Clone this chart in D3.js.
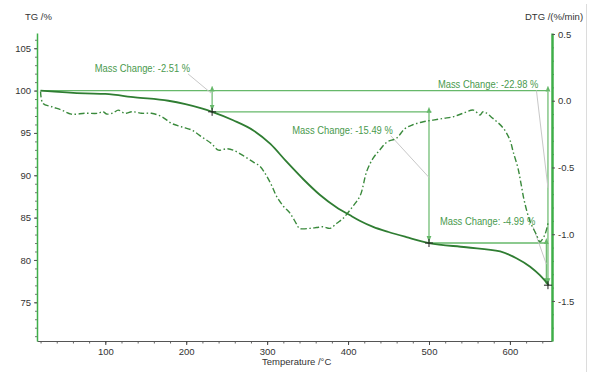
<!DOCTYPE html>
<html>
<head>
<meta charset="utf-8">
<script src="https://cdn.jsdelivr.net/npm/d3@7/dist/d3.min.js"></script>
<style>
  html, body { margin: 0; padding: 0; background: #fff; }
  svg { display: block; font-family: "Liberation Sans", Arial, sans-serif; }
</style>
</head>
<body>
<svg id="chart" width="589" height="372"></svg>
<script>
// Thermogravimetric curve (TG, %) against temperature (°C)
const tgTemp = [20, 75, 100, 137, 178, 199, 219, 232, 258, 283, 304, 324, 345, 365, 386, 402, 415, 431, 450, 472, 500, 546, 588, 608, 625, 637, 648];
const tgMass = [100, 99.67, 99.6, 99.2, 98.8, 98.4, 97.9, 97.49, 96.5, 95.3, 93.7, 91.6, 89.5, 87.7, 86.2, 85.3, 84.6, 83.9, 83.3, 82.7, 82.0, 81.5, 81.0, 80.2, 79.2, 78.2, 77.02];

// Derivative curve (DTG, %/min)
const dtgTemp = [20, 23, 34, 46, 58, 75, 91, 97, 102, 110, 116, 124, 133, 145, 157, 170, 182, 194, 207, 219, 231, 240, 250, 258, 270, 283, 291, 299, 306, 312, 320, 328, 336, 340, 353, 361, 369, 378, 386, 394, 406, 415, 423, 431, 439, 448, 460, 470, 480, 493, 505, 518, 530, 542, 555, 563, 567, 579, 592, 600, 604, 610, 614, 618, 625, 633, 637, 643, 647];
const dtgRate = [0.07, -0.02, -0.045, -0.07, -0.10, -0.094, -0.094, -0.082, -0.10, -0.09, -0.07, -0.094, -0.082, -0.094, -0.094, -0.12, -0.17, -0.195, -0.22, -0.27, -0.32, -0.37, -0.36, -0.37, -0.41, -0.46, -0.49, -0.56, -0.64, -0.72, -0.79, -0.84, -0.92, -0.956, -0.956, -0.95, -0.944, -0.956, -0.918, -0.88, -0.79, -0.71, -0.53, -0.43, -0.37, -0.31, -0.28, -0.21, -0.18, -0.157, -0.145, -0.132, -0.12, -0.094, -0.07, -0.107, -0.082, -0.132, -0.207, -0.294, -0.382, -0.506, -0.631, -0.757, -0.906, -1.006, -1.056, -1.006, -0.918];

// Mass-change steps: temperature of each step and the mass levels bounding it
const stepTemp = [232, 500, 645];
const stepMass = [100, 97.49, 82.0, 77.02];
const stepLabel = ["Mass Change: -2.51 %", "Mass Change: -15.49 %", "Mass Change: -4.99 %"];
const totalLabel = "Mass Change: -22.98 %";

// Tick labels
const xTicks = [100, 200, 300, 400, 500, 600];
const tgTicks = [75, 80, 85, 90, 95, 100, 105];
const dtgTicks = [-1.5, -1.0, -0.5, 0.0, 0.5];

const svg = d3.select("#chart");
const L = 37, R = 552, T = 33, B = 341;

const x = d3.scaleLinear().domain([15.6, 652]).range([L, R]);
const yTG = d3.scaleLinear().domain([70.43, 106.8]).range([B, T]);
const yDTG = d3.scaleLinear().domain([-1.8, 0.5075]).range([B, T]);

const axisGreen = "#3fae49";
const tgColor = "#2f7d32";
const dtgColor = "#3a8a3c";
const annColor = "#66b86a";
const textGreen = "#4a9a4e";
const leader = "#c8c8c8";

// faint frame line on the far right
svg.append("line").attr("x1", 586.5).attr("x2", 586.5).attr("y1", 4).attr("y2", 372)
  .attr("stroke", "#dcdcdc").attr("stroke-width", 1);

// ---- axes ----
function styleAxis(g, lineColor, tickColor) {
  g.select(".domain").attr("stroke", lineColor);
  g.selectAll(".tick line").attr("stroke", tickColor);
  g.selectAll(".tick text").attr("fill", "#333").attr("font-size", "9.5px")
    .attr("font-family", "'Liberation Sans', Arial, sans-serif");
}

// bottom (temperature)
const gxMinor = svg.append("g").attr("transform", `translate(0,${B})`)
  .call(d3.axisBottom(x).tickValues(d3.range(20, 652, 20)).tickSize(2.5).tickFormat(""));
gxMinor.select(".domain").remove();
gxMinor.selectAll(".tick line").attr("stroke", "#666");
const gx = svg.append("g").attr("transform", `translate(0,${B})`)
  .call(d3.axisBottom(x).tickValues(xTicks).tickSize(4).tickSizeOuter(0).tickPadding(3));
styleAxis(gx, "#555", "#444");

// left (TG)
const gyMinor = svg.append("g").attr("transform", `translate(${L},0)`)
  .call(d3.axisLeft(yTG).tickValues(d3.range(71, 107, 1)).tickSize(2).tickFormat(""));
gyMinor.select(".domain").remove();
gyMinor.selectAll(".tick line").attr("stroke", "#777");
const gy = svg.append("g").attr("transform", `translate(${L},0)`)
  .call(d3.axisLeft(yTG).tickValues(tgTicks).tickSize(3).tickSizeOuter(0).tickPadding(3));
styleAxis(gy, axisGreen, "#555");
gy.select(".domain").attr("stroke-width", 1.5);

// right (DTG)
const gdMinor = svg.append("g").attr("transform", `translate(${R},0)`)
  .call(d3.axisRight(yDTG).tickValues(d3.range(-17, 6, 1).map(d => d / 10)).tickSize(2).tickFormat(""));
gdMinor.select(".domain").remove();
gdMinor.selectAll(".tick line").attr("stroke", "#777");
const gd = svg.append("g").attr("transform", `translate(${R},0)`)
  .call(d3.axisRight(yDTG).tickValues(dtgTicks).tickSize(3).tickSizeOuter(0).tickPadding(3)
    .tickFormat(d3.format(".1f")));
styleAxis(gd, axisGreen, "#555");
gd.select(".domain").attr("stroke-width", 2.5);
gd.selectAll(".tick text").text(d => d3.format(".1f")(d).replace("−", "-"));

// axis titles
svg.append("text").attr("x", 25).attr("y", 20).attr("font-size", "9.5px").attr("fill", "#333").text("TG /%");
svg.append("text").attr("x", 525).attr("y", 20).attr("font-size", "9.5px").attr("fill", "#333").text("DTG /(%/min)");
svg.append("text").attr("x", 262).attr("y", 365).attr("font-size", "9.5px").attr("fill", "#333").text("Temperature /°C");

// ---- annotation guides (behind curves) ----
const defs = svg.append("defs");
["start", "end"].forEach(k => {
  defs.append("marker").attr("id", "arr-" + k)
    .attr("viewBox", "0 0 10 10").attr("refX", k === "end" ? 10 : 0).attr("refY", 5)
    .attr("markerWidth", 5).attr("markerHeight", 5).attr("orient", "auto-start-reverse")
    .append("path").attr("d", "M0,1 L10,5 L0,9 Z").attr("fill", annColor);
});

const ann = svg.append("g");
// horizontal reference levels
const levels = [
  { m: stepMass[0], t0: tgTemp[0], t1: 647 },
  { m: stepMass[1], t0: stepTemp[0], t1: 503 },
  { m: stepMass[2], t0: stepTemp[1], t1: 645 }
];
ann.selectAll("line.lvl").data(levels).join("line").attr("class", "lvl")
  .attr("x1", d => x(d.t0)).attr("x2", d => x(d.t1))
  .attr("y1", d => yTG(d.m)).attr("y2", d => yTG(d.m))
  .attr("stroke", annColor).attr("stroke-width", 1.3);

// vertical double arrows for each step and for the total loss
const arrows = [
  { t: stepTemp[0], a: stepMass[0], b: stepMass[1] },
  { t: stepTemp[1], a: stepMass[1], b: stepMass[2] },
  { t: stepTemp[2], a: stepMass[2], b: stepMass[3] },
  { t: 647, a: stepMass[0], b: stepMass[3] }
];
ann.selectAll("line.arr").data(arrows).join("line").attr("class", "arr")
  .attr("x1", d => x(d.t)).attr("x2", d => x(d.t))
  .attr("y1", d => yTG(d.a) + 1).attr("y2", d => yTG(d.b) - 1)
  .attr("stroke", annColor).attr("stroke-width", 1.2)
  .attr("marker-start", "url(#arr-start)").attr("marker-end", "url(#arr-end)");

// labels with leader lines (anchor in data space: temperature, TG %)
const labels = [
  { text: stepLabel[0], t: 87, m: 102.2, to: [stepTemp[0], 99.6] },
  { text: stepLabel[1], t: 331, m: 94.9, to: [stepTemp[1], (stepMass[1] + stepMass[2]) / 2] },
  { text: totalLabel, t: 511, m: 100.25, to: [647, (stepMass[0] + stepMass[3]) / 2] },
  { text: stepLabel[2], t: 513.5, m: 84.1, to: [645, (stepMass[2] + stepMass[3]) / 2] }
];
const lab = ann.selectAll("g.lab").data(labels).join("g").attr("class", "lab");
lab.append("text").attr("x", d => x(d.t)).attr("y", d => yTG(d.m))
  .attr("font-size", "10.3px").attr("fill", textGreen).text(d => d.text)
  .each(function (d) {
    // slightly condensed lettering
    d.w = this.getComputedTextLength() * 0.91;
    d3.select(this).attr("textLength", d.w).attr("lengthAdjust", "spacingAndGlyphs");
  });
lab.insert("line", "text")
  .attr("x1", d => x(d.t) + d.w - 2).attr("y1", d => yTG(d.m) + 2)
  .attr("x2", d => x(d.to[0])).attr("y2", d => yTG(d.to[1]))
  .attr("stroke", leader).attr("stroke-width", 1);

// ---- curves ----
const dtgLine = d3.line().x((d, i) => x(dtgTemp[i])).y(d => yDTG(d)).curve(d3.curveCatmullRom.alpha(0.5));
svg.append("path").datum(dtgRate).attr("d", dtgLine)
  .attr("fill", "none").attr("stroke", dtgColor).attr("stroke-width", 1.4)
  .attr("stroke-dasharray", "6,2.5,1.5,2.5");

const tgLine = d3.line().x((d, i) => x(tgTemp[i])).y(d => yTG(d)).curve(d3.curveMonotoneX);
svg.append("path").datum(tgMass).attr("d", tgLine)
  .attr("fill", "none").attr("stroke", tgColor).attr("stroke-width", 1.8);

// step markers on the TG curve
const marks = [
  { t: stepTemp[0], m: stepMass[1] },
  { t: stepTemp[1], m: stepMass[2] },
  { t: 647, m: stepMass[3] }
];
svg.selectAll("path.mk").data(marks).join("path").attr("class", "mk")
  .attr("transform", d => `translate(${x(d.t)},${yTG(d.m)})`)
  .attr("d", "M-4,0H4M0,-4V4").attr("stroke", "#222").attr("stroke-width", 1).attr("fill", "none");
</script>
</body>
</html>
